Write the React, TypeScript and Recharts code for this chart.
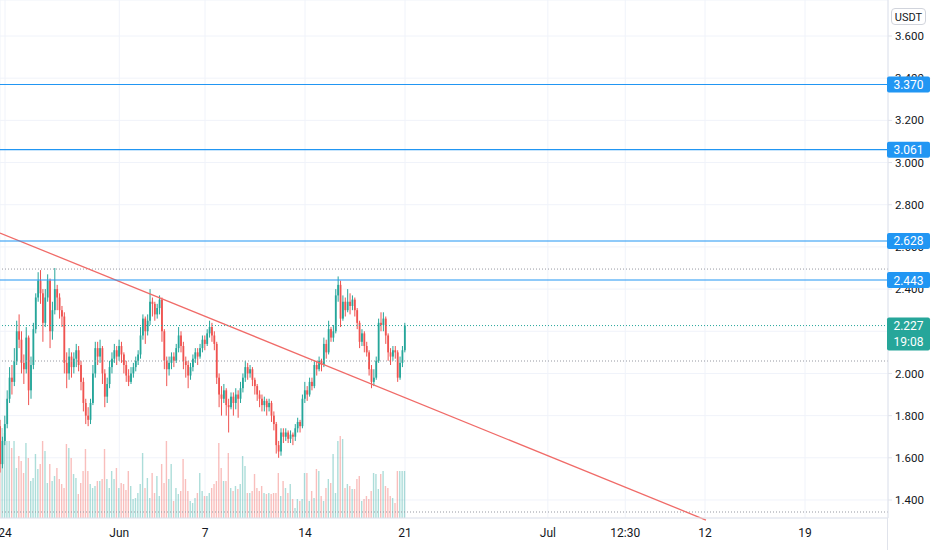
import { ComposedChart, Bar, XAxis, YAxis, CartesianGrid, ReferenceLine, Cell } from 'recharts';

const UP = '#26a69a';
const DOWN = '#ef5350';
const BLUE = '#2196f3';
const FONT = 'Roboto, "Liberation Sans", sans-serif';

// 4h candles, index 0 = 24 May 00:00
const START_INDEX = -2;
const FIRST_OPEN = 1.75;

const closes = [
  1.57, 1.68, 1.76, 1.88, 1.98, 1.96, 2.06, 2.2, 2.16, 2.05,
  2.02, 2.17, 1.92, 2.04, 2.21, 2.36, 2.44, 2.38, 2.24, 2.36,
  2.44, 2.2, 2.3, 2.4, 2.36, 2.3, 2.27, 2.05, 2.0, 2.08,
  2.03, 2.07, 2.11, 2.04, 1.96, 1.86, 1.8, 1.78, 1.86, 2.0,
  2.12, 2.08, 2.12, 2.0, 1.89, 1.95, 2.03, 2.07, 2.11, 2.08,
  2.13, 2.09, 2.04, 1.99, 1.96, 2.0, 2.03, 2.06, 2.09, 2.18,
  2.26, 2.2, 2.25, 2.34, 2.33, 2.28, 2.31, 2.35, 2.2, 2.06,
  2.02, 2.05, 2.08, 2.06, 2.12, 2.18, 2.13, 2.06, 2.04, 1.99,
  2.03, 2.07, 2.1, 2.08, 2.12, 2.16, 2.14, 2.19, 2.22, 2.18,
  2.14, 1.98, 1.9, 1.88, 1.92, 1.85, 1.84, 1.89, 1.86, 1.9,
  1.88, 1.93, 1.98, 2.03, 2.0, 2.02, 1.97, 1.94, 1.9, 1.88,
  1.85, 1.87, 1.84, 1.86, 1.8, 1.76, 1.66, 1.63, 1.72, 1.7,
  1.72, 1.69, 1.71, 1.7, 1.74, 1.77, 1.75, 1.88, 1.92, 1.9,
  1.96, 1.94, 2.04, 2.02, 2.06, 2.04, 2.14, 2.1, 2.21, 2.17,
  2.2, 2.37, 2.42, 2.26, 2.34, 2.3, 2.34, 2.32, 2.35, 2.3,
  2.24, 2.15, 2.19, 2.13, 2.1, 2.02, 1.96, 1.98, 2.06, 2.24,
  2.23, 2.26, 2.18, 2.1, 2.08, 2.11, 2.1, 1.98, 2.05, 2.11,
  2.227,
];

const highs = [
  1.78, 1.7, 1.8, 1.92, 2.03, 2.04, 2.12, 2.25, 2.28, 2.2,
  2.09, 2.22, 2.18, 2.08, 2.24, 2.38, 2.48, 2.49, 2.4, 2.4,
  2.47, 2.45, 2.34, 2.5, 2.42, 2.38, 2.32, 2.29, 2.1, 2.12,
  2.1, 2.1, 2.14, 2.13, 2.06, 1.98, 1.88, 1.84, 1.88, 2.04,
  2.15, 2.15, 2.16, 2.13, 2.02, 1.98, 2.06, 2.1, 2.14, 2.13,
  2.16, 2.15, 2.1, 2.06, 2.02, 2.03, 2.05, 2.08, 2.11, 2.22,
  2.28, 2.27, 2.28, 2.4, 2.36, 2.34, 2.33, 2.37, 2.36, 2.21,
  2.08, 2.08, 2.1, 2.1, 2.14, 2.22, 2.2, 2.15, 2.08, 2.06,
  2.05, 2.09, 2.12, 2.12, 2.14, 2.18, 2.18, 2.21, 2.25, 2.24,
  2.2, 2.15, 2.0, 1.94, 1.95, 1.93, 1.88, 1.91, 1.91, 1.93,
  1.92, 1.96, 2.0, 2.06, 2.05, 2.04, 2.03, 1.98, 1.95, 1.92,
  1.9, 1.89, 1.88, 1.88, 1.87, 1.82, 1.77, 1.68, 1.74, 1.74,
  1.74, 1.73, 1.73, 1.72, 1.76, 1.79, 1.78, 1.9, 1.96, 1.94,
  1.98, 1.98, 2.06, 2.06, 2.08, 2.07, 2.17, 2.16, 2.25, 2.22,
  2.23, 2.4, 2.46, 2.44, 2.37, 2.36, 2.4, 2.38, 2.37, 2.36,
  2.31, 2.25, 2.21, 2.2, 2.15, 2.11, 2.04, 2.02, 2.08, 2.26,
  2.29, 2.29, 2.27, 2.19, 2.12, 2.13, 2.13, 2.11, 2.08, 2.13,
  2.24,
];

const lows = [
  1.53, 1.55, 1.66, 1.74, 1.86, 1.9, 1.94, 2.04, 2.12, 2.0,
  1.95, 2.0, 1.85, 1.88, 2.02, 2.19, 2.34, 2.33, 2.15, 2.22,
  2.34, 2.12, 2.16, 2.28, 2.3, 2.26, 2.22, 2.0, 1.93, 1.97,
  1.98, 2.0, 2.03, 2.01, 1.92, 1.82, 1.76, 1.75, 1.76, 1.85,
  1.98, 2.04, 2.05, 1.95, 1.84, 1.86, 1.93, 2.0, 2.05, 2.04,
  2.06, 2.05, 2.0, 1.96, 1.94, 1.95, 1.98, 2.01, 2.04, 2.07,
  2.16, 2.14, 2.18, 2.23, 2.27, 2.25, 2.26, 2.28, 2.15, 2.02,
  1.94, 1.99, 2.02, 2.03, 2.05, 2.1, 2.1, 2.02, 1.98, 1.93,
  1.97, 2.01, 2.05, 2.04, 2.07, 2.1, 2.11, 2.13, 2.17, 2.15,
  2.11, 1.95, 1.84, 1.8, 1.86, 1.8, 1.72, 1.83, 1.8, 1.83,
  1.79, 1.86, 1.91, 1.96, 1.97, 1.98, 1.94, 1.9, 1.87, 1.84,
  1.82, 1.82, 1.8, 1.82, 1.77, 1.73, 1.62, 1.6, 1.61, 1.67,
  1.68, 1.67, 1.67, 1.66, 1.68, 1.72, 1.72, 1.74, 1.86, 1.87,
  1.89, 1.92, 1.93, 1.99, 2.01, 2.01, 2.03, 2.07, 2.09, 2.15,
  2.15, 2.19, 2.34, 2.22, 2.25, 2.27, 2.29, 2.28, 2.3, 2.27,
  2.21, 2.12, 2.13, 2.1, 2.08, 1.99, 1.93, 1.94, 1.97, 2.05,
  2.2, 2.2, 2.14, 2.06, 2.04, 2.06, 2.07, 1.96, 1.97, 2.03,
  2.1,
];

const volumes = [
  70, 90, 85, 77, 77, 70, 77, 50, 62, 57,
  45, 75, 60, 37, 40, 64, 49, 54, 77, 67,
  35, 54, 37, 42, 50, 39, 34, 30, 74, 70,
  60, 44, 40, 24, 35, 47, 69, 47, 34, 30,
  32, 37, 37, 39, 69, 39, 30, 47, 39, 50,
  30, 35, 34, 28, 47, 32, 19, 20, 25, 34,
  65, 30, 40, 20, 45, 25, 42, 22, 54, 35,
  77, 39, 54, 17, 30, 24, 27, 59, 39, 27,
  17, 15, 20, 25, 45, 27, 22, 22, 25, 30,
  34, 37, 75, 50, 37, 37, 65, 30, 27, 32,
  29, 34, 62, 52, 25, 25, 27, 44, 30, 27,
  32, 25, 24, 25, 24, 25, 25, 45, 22, 37,
  30, 25, 34, 19, 10, 19, 17, 19, 45, 45,
  17, 27, 20, 49, 47, 22, 17, 30, 39, 35,
  64, 25, 77, 82, 79, 30, 34, 32, 29, 29,
  39, 42, 17, 19, 22, 19, 27, 45, 44, 29,
  44, 47, 32, 30, 22, 20, 15, 47, 47, 47,
  47,
];

const timeTicks = [0, 48, 84, 126, 168, 228, 260.5, 294, 336];
const timeLabels = ['24', 'Jun', '7', '14', '21', 'Jul', '12:30', '12', '19'];

const priceTicks = [1.4, 1.6, 1.8, 2.0, 2.2, 2.4, 2.6, 2.8, 3.0, 3.2, 3.4, 3.6];

const levels = [3.37, 3.061, 2.628, 2.443];
const lastPrice = 2.227;
const countdown = '19:08';
const dottedLevels = [2.495, 2.059, 1.343];

const trendStart = { x: -2.1, y: 2.666 };
const trendEnd = { x: 294.4, y: 1.305 };

const rows = closes.map((close, i) => ({
  t: START_INDEX + i,
  open: i === 0 ? FIRST_OPEN : closes[i - 1],
  close,
  high: highs[i],
  low: lows[i],
  vol: volumes[i],
}));

function Candle(props: any) {
  const { x, y, width, height, payload } = props;
  if (!payload) return null;
  const top0 = Math.min(y, y + height);
  const h0 = Math.abs(height);
  const span = payload.high - payload.low || 1;
  const ratio = h0 / span;
  const yOpen = top0 + (payload.high - payload.open) * ratio;
  const yClose = top0 + (payload.high - payload.close) * ratio;
  const color = payload.close >= payload.open ? UP : DOWN;
  const cx = x + width / 2;
  const bodyTop = Math.min(yOpen, yClose);
  const bodyH = Math.max(Math.abs(yOpen - yClose), 1);
  return (
    <g>
      <line x1={cx} x2={cx} y1={top0} y2={top0 + h0} stroke={color} strokeWidth={1} />
      <rect x={cx - 0.9} y={bodyTop} width={1.8} height={bodyH} fill={color} />
    </g>
  );
}

// price tags drawn over the right scale
function TagTick(props: any) {
  const { y, payload } = props;
  const v = payload?.value;
  const isLast = v === lastPrice;
  const fill = isLast ? UP : BLUE;
  return (
    <g>
      <rect x={887} y={y - 8} width={43} height={isLast ? 33 : 16} fill={fill} rx={2} />
      <text x={908.5} y={y + 4.5} textAnchor="middle" fill="#ffffff" fontSize={12} fontFamily={FONT}>
        {Number(v).toFixed(3)}
      </text>
      {isLast && (
        <text x={908.5} y={y + 20} textAnchor="middle" fill="#ffffff" fontSize={12} fontFamily={FONT}>
          {countdown}
        </text>
      )}
    </g>
  );
}

export default function App() {
  return (
    <div style={{ position: 'absolute', left: 0, top: 0, width: 932, height: 550, background: '#ffffff' }}>
      <ComposedChart width={932} height={550} data={rows} margin={{ top: 0, right: 0, left: 0, bottom: 0 }}>
        <CartesianGrid xAxisId="t" yAxisId="price" stroke="#f0f3fa" />
        <XAxis
          xAxisId="t"
          dataKey="t"
          type="number"
          domain={[-2.1, 370.85]}
          allowDataOverflow
          ticks={timeTicks}
          tickFormatter={(v: number) => timeLabels[timeTicks.indexOf(v)] ?? ''}
          height={32}
          tickSize={0}
          tickMargin={10}
          axisLine={{ stroke: '#e0e3eb' }}
          tick={{ fill: '#131722', fontSize: 12, fontFamily: FONT }}
          interval={0}
        />
        <XAxis xAxisId="v" dataKey="t" type="number" domain={[-2.1, 370.85]} allowDataOverflow hide />
        <YAxis
          yAxisId="price"
          orientation="right"
          type="number"
          domain={[1.3146, 3.7707]}
          allowDataOverflow
          ticks={priceTicks}
          tickFormatter={(v: number) => v.toFixed(3)}
          width={43}
          tickSize={4}
          tickMargin={3}
          tickLine={{ stroke: '#e0e3eb' }}
          axisLine={{ stroke: '#e0e3eb' }}
          tick={{ fill: '#131722', fontSize: 11.5, fontFamily: FONT, textAnchor: 'start' }}
          interval={0}
        />
        <YAxis
          yAxisId="tags"
          orientation="right"
          type="number"
          domain={[1.3146, 3.7707]}
          allowDataOverflow
          ticks={[...levels, lastPrice]}
          width={1}
          axisLine={false}
          tickLine={false}
          tick={<TagTick />}
          interval={0}
        />
        <YAxis yAxisId="vol" type="number" domain={[0, 518]} hide />

        <Bar xAxisId="v" yAxisId="vol" dataKey="vol" barSize={1.4} isAnimationActive={false}>
          {rows.map((r, i) => (
            <Cell key={i} fill={r.close >= r.open ? UP : DOWN} fillOpacity={0.38} />
          ))}
        </Bar>

        {dottedLevels.map((p) => (
          <ReferenceLine key={p} xAxisId="t" yAxisId="price" y={p} stroke="#9598a1" strokeDasharray="1 2" />
        ))}

        <Bar
          xAxisId="t"
          yAxisId="price"
          dataKey={(d: any) => [d.low, d.high]}
          barSize={2}
          shape={<Candle />}
          isAnimationActive={false}
        />

        <ReferenceLine
          xAxisId="t"
          yAxisId="price"
          segment={[trendStart, trendEnd]}
          stroke="#f06b68"
          strokeWidth={1.3}
          ifOverflow="visible"
        />

        {levels.map((p) => (
          <ReferenceLine key={p} xAxisId="t" yAxisId="price" y={p} stroke={BLUE} strokeWidth={1.2} />
        ))}

        <ReferenceLine xAxisId="t" yAxisId="price" y={lastPrice} stroke={UP} strokeDasharray="1 2" />
      </ComposedChart>
      <div
        style={{
          position: 'absolute',
          left: 891,
          top: 8,
          width: 35,
          height: 17,
          border: '1px solid #d1d4dc',
          borderRadius: 4,
          fontFamily: FONT,
          fontSize: 11,
          color: '#131722',
          lineHeight: '17px',
          textAlign: 'center',
          boxSizing: 'border-box',
        }}
      >
        USDT
      </div>
      <div style={{ position: 'absolute', left: 887, top: 518, width: 1, height: 32, background: '#e0e3eb' }} />
    </div>
  );
}
